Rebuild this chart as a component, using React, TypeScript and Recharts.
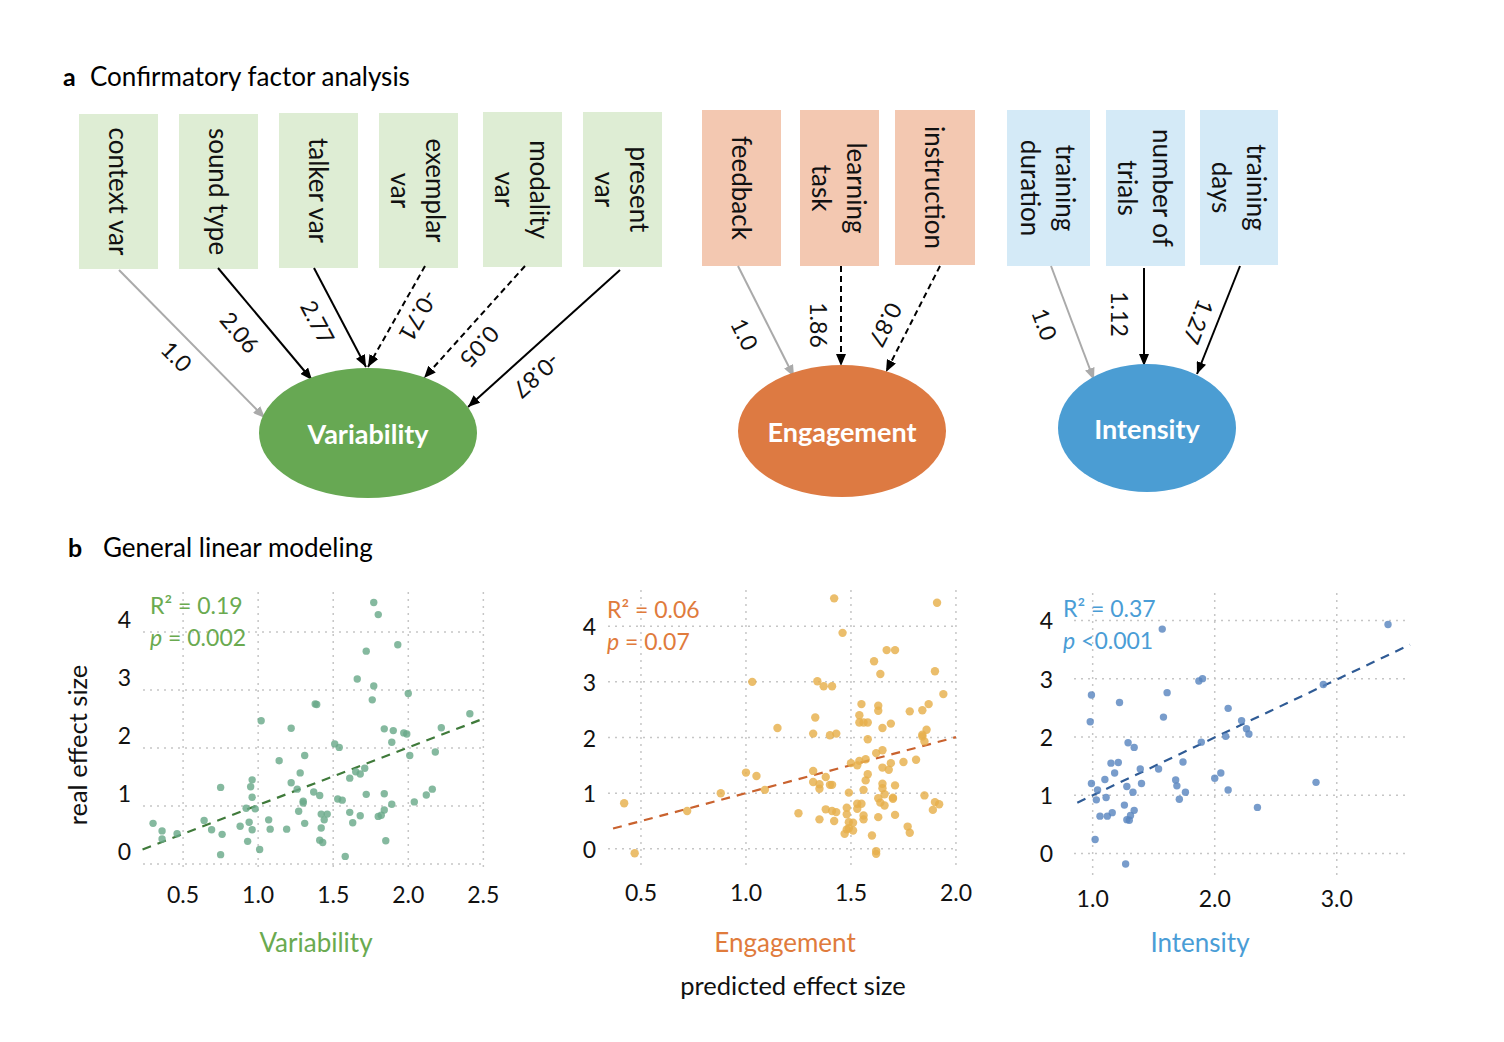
import React from 'react';
import { ScatterChart, Scatter, XAxis, YAxis, CartesianGrid, ReferenceLine } from 'recharts';

const FONT = 'Lato, "Noto Sans", sans-serif';

// ---- panel a: factor model ----
const factorNames = ['Variability', 'Engagement', 'Intensity'];
const variabilityItems = [['context var'], ['sound type'], ['talker var'], ['exemplar', 'var'], ['modality', 'var'], ['present', 'var']];
const engagementItems = [['feedback'], ['learning', 'task'], ['instruction']];
const intensityItems = [['training', 'duration'], ['number of', 'trials'], ['training', 'days']];
const variabilityLoadings = ['1.0', '2.06', '2.77', '-0.71', '0.05', '-0.87'];
const engagementLoadings = ['1.0', '1.86', '0.87'];
const intensityLoadings = ['1.0', '1.12', '1.27'];
// 'ref' = fixed reference loading, 'solid' = significant, 'dashed' = not significant
const variabilityPaths = ['ref', 'solid', 'solid', 'dashed', 'dashed', 'solid'];
const engagementPaths = ['ref', 'dashed', 'dashed'];
const intensityPaths = ['ref', 'solid', 'solid'];

// ---- panel b: predicted vs real effect size ----
type Pt = [number, number];
const variabilityPoints: Pt[] = [
  [1.77, 4.51], [1.8, 4.3], [1.72, 3.67], [1.93, 3.78], [1.66, 3.19], [1.77, 3.07], [1.76, 2.83], [2.0, 2.94],
  [1.38, 2.76], [1.39, 2.75], [1.02, 2.47], [1.22, 2.34], [1.84, 2.33], [1.9, 2.3], [1.97, 2.26], [1.99, 2.24],
  [2.41, 2.59], [2.22, 2.35], [1.89, 2.1], [1.51, 2.07], [1.54, 2.01], [2.01, 1.87], [2.18, 1.93], [1.14, 1.78],
  [1.31, 1.87], [1.28, 1.57], [1.22, 1.4], [0.96, 1.45], [0.95, 1.33], [0.75, 1.32], [0.96, 1.15], [1.26, 1.29],
  [1.37, 1.24], [1.41, 1.18], [1.3, 1.08], [1.3, 1.05], [1.65, 1.59], [1.68, 1.55], [1.71, 1.65], [1.61, 1.48],
  [1.53, 1.12], [1.56, 1.1], [1.72, 1.2], [1.84, 1.21], [1.89, 1.03], [2.04, 1.07], [2.12, 1.19], [2.16, 1.29],
  [0.92, 0.96], [0.98, 0.95], [1.27, 0.91], [1.42, 0.86], [1.46, 0.86], [1.44, 0.76], [1.61, 0.89], [1.68, 0.83],
  [1.63, 0.71], [1.8, 0.82], [1.82, 0.84], [1.84, 0.93], [0.64, 0.75], [0.69, 0.59], [0.3, 0.7], [0.36, 0.57],
  [0.36, 0.43], [0.46, 0.52], [0.76, 0.51], [0.75, 0.16], [0.88, 0.65], [0.94, 0.72], [0.96, 0.59], [0.93, 0.39],
  [1.01, 0.25], [1.07, 0.76], [1.08, 0.6], [1.19, 0.6], [1.31, 0.7], [1.42, 0.62], [1.41, 0.41], [1.43, 0.37],
  [1.58, 0.13], [1.85, 0.4],
];
const engagementPoints: Pt[] = [
  [1.42, 4.5], [1.91, 4.42], [1.46, 3.88], [1.67, 3.57], [1.71, 3.57], [1.61, 3.37], [1.64, 3.14], [1.9, 3.19],
  [1.03, 3.0], [1.34, 3.01], [1.37, 2.92], [1.41, 2.92], [1.94, 2.78], [1.55, 2.6], [1.63, 2.57], [1.63, 2.48],
  [1.78, 2.47], [1.84, 2.49], [1.87, 2.6], [1.33, 2.36], [1.54, 2.4], [1.54, 2.27], [1.56, 2.27], [1.58, 2.27],
  [1.69, 2.25], [1.65, 2.17], [1.15, 2.17], [1.32, 2.07], [1.4, 2.04], [1.43, 2.07], [1.58, 1.97], [1.86, 2.14],
  [1.84, 2.05], [1.84, 2.02], [1.85, 1.93], [1.62, 1.72], [1.65, 1.77], [1.5, 1.54], [1.54, 1.58], [1.57, 1.61],
  [1.53, 1.5], [1.69, 1.54], [1.65, 1.46], [1.68, 1.42], [1.75, 1.56], [1.81, 1.6], [1.0, 1.37], [1.05, 1.31],
  [1.32, 1.4], [1.38, 1.29], [1.58, 1.34], [1.57, 1.23], [1.32, 1.2], [1.35, 1.16], [1.4, 1.15], [1.41, 1.15],
  [1.35, 1.08], [1.65, 1.17], [1.71, 1.14], [1.65, 1.09], [1.09, 1.06], [0.88, 1.0], [1.56, 1.06], [1.49, 1.01],
  [1.63, 0.91], [1.66, 0.98], [1.7, 0.92], [1.7, 0.9], [1.85, 0.96], [0.42, 0.82], [1.9, 0.84], [1.92, 0.8],
  [1.89, 0.7], [1.53, 0.81], [1.55, 0.81], [1.53, 0.72], [1.64, 0.83], [1.66, 0.78], [1.48, 0.74], [1.38, 0.71],
  [1.41, 0.68], [1.43, 0.66], [0.72, 0.68], [1.25, 0.64], [1.48, 0.62], [1.56, 0.6], [1.56, 0.53], [1.35, 0.53],
  [1.42, 0.5], [1.71, 0.61], [1.63, 0.57], [1.49, 0.48], [1.51, 0.47], [1.49, 0.37], [1.48, 0.35], [1.51, 0.33],
  [1.47, 0.27], [1.6, 0.24], [1.77, 0.4], [1.78, 0.29], [0.47, -0.08], [1.62, -0.04], [1.62, -0.09],
];
const intensityPoints: Pt[] = [
  [3.42, 3.93], [1.57, 3.85], [1.9, 3.0], [1.87, 2.96], [2.89, 2.9], [0.99, 2.72], [1.61, 2.76], [1.22, 2.59],
  [2.11, 2.49], [0.98, 2.26], [1.58, 2.34], [2.22, 2.28], [2.26, 2.14], [2.28, 2.05], [2.09, 2.01], [1.89, 1.91],
  [1.29, 1.9], [1.34, 1.82], [1.15, 1.55], [1.21, 1.56], [1.74, 1.57], [1.54, 1.45], [1.39, 1.45], [1.18, 1.38],
  [2.0, 1.29], [2.05, 1.38], [2.83, 1.22], [0.99, 1.2], [1.1, 1.27], [1.4, 1.2], [1.28, 1.15], [1.33, 1.05],
  [1.68, 1.26], [1.69, 1.16], [1.76, 1.05], [2.11, 1.09], [1.04, 1.09], [1.11, 0.96], [1.03, 0.92], [1.71, 0.93],
  [1.26, 0.83], [1.34, 0.74], [1.16, 0.7], [1.06, 0.64], [1.12, 0.64], [1.31, 0.65], [1.28, 0.58], [1.3, 0.57],
  [2.35, 0.79], [1.02, 0.24], [1.27, -0.18],
];
const variabilityFit: Pt[] = [[0.23, 0.25], [2.51, 2.515]];
const engagementFit: Pt[] = [[0.367, 0.365], [2.0, 2.006]];
const intensityFit: Pt[] = [[0.874, 0.871], [3.6, 3.582]];
const variabilityStats = ['0.19', '= 0.002'];
const engagementStats = ['0.06', '= 0.07'];
const intensityStats = ['0.37', '<0.001'];
const yTicks = [0, 1, 2, 3, 4];
const variabilityXTicks = [0.5, 1.0, 1.5, 2.0, 2.5];
const engagementXTicks = [0.5, 1.0, 1.5, 2.0];
const intensityXTicks = [1.0, 2.0, 3.0];

// ---- layout ----
const boxLayout = [
  { x: 79, y: 114, w: 79, h: 155 }, { x: 179, y: 114, w: 79, h: 155 }, { x: 279, y: 113, w: 79, h: 155 },
  { x: 379, y: 113, w: 79, h: 155 }, { x: 483, y: 112, w: 79, h: 155 }, { x: 583, y: 112, w: 79, h: 155 },
  { x: 702, y: 110, w: 79, h: 156 }, { x: 800, y: 110, w: 79, h: 156 }, { x: 895, y: 110, w: 80, h: 155 },
  { x: 1007, y: 110, w: 83, h: 156 }, { x: 1106, y: 110, w: 79, h: 156 }, { x: 1200, y: 110, w: 78, h: 155 },
];
const arrowLayout = [
  { x1: 119, y1: 270, x2: 265, y2: 418, lx: 177, ly: 356 },
  { x1: 218, y1: 268, x2: 312, y2: 380, lx: 240, ly: 332 },
  { x1: 314, y1: 268, x2: 366, y2: 367, lx: 318, ly: 322 },
  { x1: 425, y1: 266, x2: 368, y2: 367, lx: 419, ly: 316 },
  { x1: 525, y1: 266, x2: 424, y2: 378, lx: 480, ly: 347 },
  { x1: 620, y1: 270, x2: 468, y2: 407, lx: 537, ly: 376 },
  { x1: 738, y1: 266, x2: 794, y2: 377, lx: 745, ly: 334 },
  { x1: 841, y1: 266, x2: 841, y2: 366, lx: 819, ly: 325 },
  { x1: 940, y1: 266, x2: 886, y2: 372, lx: 886, ly: 325 },
  { x1: 1051, y1: 266, x2: 1094, y2: 380, lx: 1045, ly: 324 },
  { x1: 1144, y1: 268, x2: 1144, y2: 366, lx: 1120, ly: 314 },
  { x1: 1240, y1: 266, x2: 1197, y2: 374, lx: 1199, ly: 322 },
];
const ellipseLayout = [
  { cx: 368, cy: 433, rx: 109, ry: 65 },
  { cx: 842, cy: 431, rx: 104, ry: 66 },
  { cx: 1147, cy: 428, rx: 89, ry: 64 },
];
const boxFills = ['#deedd4', '#f3c8b1', '#d4eaf7'];
const factorFills = ['#67a853', '#dd7a42', '#4b9dd3'];
const textColors = ['#6aaa50', '#e07b3c', '#4a9dd6'];

function Diagram() {
  const items = [...variabilityItems, ...engagementItems, ...intensityItems];
  const loadings = [...variabilityLoadings, ...engagementLoadings, ...intensityLoadings];
  const paths = [...variabilityPaths, ...engagementPaths, ...intensityPaths];
  const group = (i: number) => (i < 6 ? 0 : i < 9 ? 1 : 2);
  return (
    <svg width={1504} height={1042} style={{ position: 'absolute', left: 0, top: 0 }} fontFamily={FONT}>
      <defs>
        <marker id="ah-black" viewBox="0 0 12 10" refX="12" refY="5" markerWidth="12" markerHeight="10" markerUnits="userSpaceOnUse" orient="auto">
          <path d="M0,0 L12,5 L0,10 z" fill="#000" />
        </marker>
        <marker id="ah-gray" viewBox="0 0 12 10" refX="12" refY="5" markerWidth="12" markerHeight="10" markerUnits="userSpaceOnUse" orient="auto">
          <path d="M0,0 L12,5 L0,10 z" fill="#aaaaaa" />
        </marker>
      </defs>

      <text x={63} y={76} fontSize={25} fontWeight="bold" dominantBaseline="central">a</text>
      <text x={90} y={76} fontSize={26} dominantBaseline="central">Confirmatory factor analysis</text>
      <text x={68} y={547} fontSize={25} fontWeight="bold" dominantBaseline="central">b</text>
      <text x={103} y={547} fontSize={26} dominantBaseline="central">General linear modeling</text>

      {items.map((lines, i) => {
        const b = boxLayout[i];
        const cx = b.x + b.w / 2;
        const cy = b.y + b.h / 2;
        return (
          <g key={'box' + i}>
            <rect x={b.x} y={b.y} width={b.w} height={b.h} fill={boxFills[group(i)]} />
            <text transform={`translate(${cx},${cy}) rotate(90)`} textAnchor="middle" fontSize={26} fill="#111">
              {lines.map((ln, j) => (
                <tspan key={j} x={0} y={-((lines.length - 1) / 2 - j) * 35} dominantBaseline="central">{ln}</tspan>
              ))}
            </text>
          </g>
        );
      })}

      {arrowLayout.map((a, i) => {
        const kind = paths[i];
        const ang = (Math.atan2(a.y2 - a.y1, a.x2 - a.x1) * 180) / Math.PI;
        return (
          <g key={'arr' + i}>
            <line x1={a.x1} y1={a.y1} x2={a.x2} y2={a.y2}
              stroke={kind === 'ref' ? '#aaaaaa' : '#000'} strokeWidth={2}
              strokeDasharray={kind === 'dashed' ? '6 4' : undefined}
              markerEnd={kind === 'ref' ? 'url(#ah-gray)' : 'url(#ah-black)'} />
            <text transform={`translate(${a.lx},${a.ly}) rotate(${ang})`} textAnchor="middle" dominantBaseline="central" fontSize={23} fill="#111">
              {loadings[i]}
            </text>
          </g>
        );
      })}

      {factorNames.map((f, i) => {
        const e = ellipseLayout[i];
        return (
          <g key={f}>
            <ellipse cx={e.cx} cy={e.cy} rx={e.rx} ry={e.ry} fill={factorFills[i]} />
            <text x={e.cx} y={e.cy} textAnchor="middle" dominantBaseline="central" fontSize={27} fontWeight="bold" fill="#fff">{f}</text>
          </g>
        );
      })}

      <text transform="translate(77,745) rotate(-90)" textAnchor="middle" dominantBaseline="central" fontSize={25.5} fill="#111">real effect size</text>
      <text x={316} y={942} textAnchor="middle" dominantBaseline="central" fontSize={26} fill={textColors[0]}>{factorNames[0]}</text>
      <text x={785} y={942} textAnchor="middle" dominantBaseline="central" fontSize={26} fill={textColors[1]}>{factorNames[1]}</text>
      <text x={1200} y={942} textAnchor="middle" dominantBaseline="central" fontSize={26} fill={textColors[2]}>{factorNames[2]}</text>
      <text x={793} y={985} textAnchor="middle" dominantBaseline="central" fontSize={25.5} fill="#111">predicted effect size</text>
    </svg>
  );
}

interface PanelProps {
  plot: { left: number; top: number; right: number; bottom: number };
  xDomain: [number, number];
  yDomain: [number, number];
  xTicks: number[];
  points: Pt[];
  fit: Pt[];
  stats: string[];
  dotColor: string;
  lineColor: string;
  textColor: string;
  r: number;
  xGap: number;
  yGap: number;
  yShift: number;
  statsPos: { x: number; y: number };
}

function ScatterPanel(p: PanelProps) {
  const padL = 70, padT = 20, padR = 40, padB = 50;
  const w = p.plot.right - p.plot.left + padL + padR;
  const h = p.plot.bottom - p.plot.top + padT + padB;
  const data = p.points.map(([x, y]) => ({ x, y }));
  return (
    <>
      <div style={{ position: 'absolute', left: p.plot.left - padL, top: p.plot.top - padT }}>
        <ScatterChart width={w} height={h} margin={{ top: padT, right: padR, bottom: padB - 40, left: padL - 50 }}>
          <CartesianGrid stroke="#c6c6c6" strokeDasharray="2 5" strokeWidth={1.5} syncWithTicks />
          <XAxis type="number" dataKey="x" domain={p.xDomain} ticks={p.xTicks} allowDataOverflow interval={0}
            axisLine={false} tickLine={false} tickSize={0} tickMargin={p.xGap} height={40}
            tick={(t: any) => (
              <text x={t.x} y={t.y} dy="0.71em" textAnchor="middle" fontSize={23} fontFamily={FONT} fill="#111">
                {Number(t.payload.value).toFixed(1)}
              </text>
            )} />
          <YAxis type="number" dataKey="y" domain={p.yDomain} ticks={yTicks} allowDataOverflow interval={0}
            axisLine={false} tickLine={false} tickSize={0} tickMargin={p.yGap} width={50}
            tick={(t: any) => (
              <text x={t.x} y={t.y + p.yShift} dominantBaseline="central" textAnchor="end" fontSize={23} fontFamily={FONT} fill="#111">
                {t.payload.value}
              </text>
            )} />
          <Scatter data={data} isAnimationActive={false}
            shape={(s: any) => <circle cx={s.cx} cy={s.cy} r={p.r} fill={p.dotColor} fillOpacity={0.82} />} />
          <ReferenceLine segment={[{ x: p.fit[0][0], y: p.fit[0][1] }, { x: p.fit[1][0], y: p.fit[1][1] }]}
            stroke={p.lineColor} strokeWidth={2.2} strokeDasharray="9 7" ifOverflow="visible" />
        </ScatterChart>
      </div>
      <div style={{ position: 'absolute', left: p.statsPos.x, top: p.statsPos.y, fontFamily: FONT, fontSize: 23, lineHeight: '32px', color: p.textColor, whiteSpace: 'nowrap' }}>
        <div>R² = {p.stats[0]}</div>
        <div><i>p</i> {p.stats[1]}</div>
      </div>
    </>
  );
}

export default function App() {
  return (
    <div style={{ position: 'absolute', left: 0, top: 0, width: 1504, height: 1042, background: '#fff', overflow: 'hidden' }}>
      <Diagram />
      <ScatterPanel plot={{ left: 143, top: 592, right: 485, bottom: 868 }} xDomain={[0.233, 2.511]} yDomain={[-0.07, 4.69]}
        xTicks={variabilityXTicks} points={variabilityPoints} fit={variabilityFit} stats={variabilityStats}
        dotColor="#6aa98a" lineColor="#3f7a3a" textColor={textColors[0]} r={3.7} xGap={19} yGap={12} yShift={-13}
        statsPos={{ x: 150, y: 589 }} />
      <ScatterPanel plot={{ left: 608, top: 590, right: 957, bottom: 865 }} xDomain={[0.343, 2.005]} yDomain={[-0.29, 4.65]}
        xTicks={engagementXTicks} points={engagementPoints} fit={engagementFit} stats={engagementStats}
        dotColor="#e6b04c" lineColor="#c9622e" textColor={textColors[1]} r={4.2} xGap={20} yGap={12} yShift={0}
        statsPos={{ x: 607, y: 593 }} />
      <ScatterPanel plot={{ left: 1074, top: 593, right: 1410, bottom: 875 }} xDomain={[0.847, 3.6]} yDomain={[-0.37, 4.47]}
        xTicks={intensityXTicks} points={intensityPoints} fit={intensityFit} stats={intensityStats}
        dotColor="#5a86c0" lineColor="#2f5b95" textColor={textColors[2]} r={3.7} xGap={16} yGap={21} yShift={0}
        statsPos={{ x: 1063, y: 592 }} />
    </div>
  );
}
